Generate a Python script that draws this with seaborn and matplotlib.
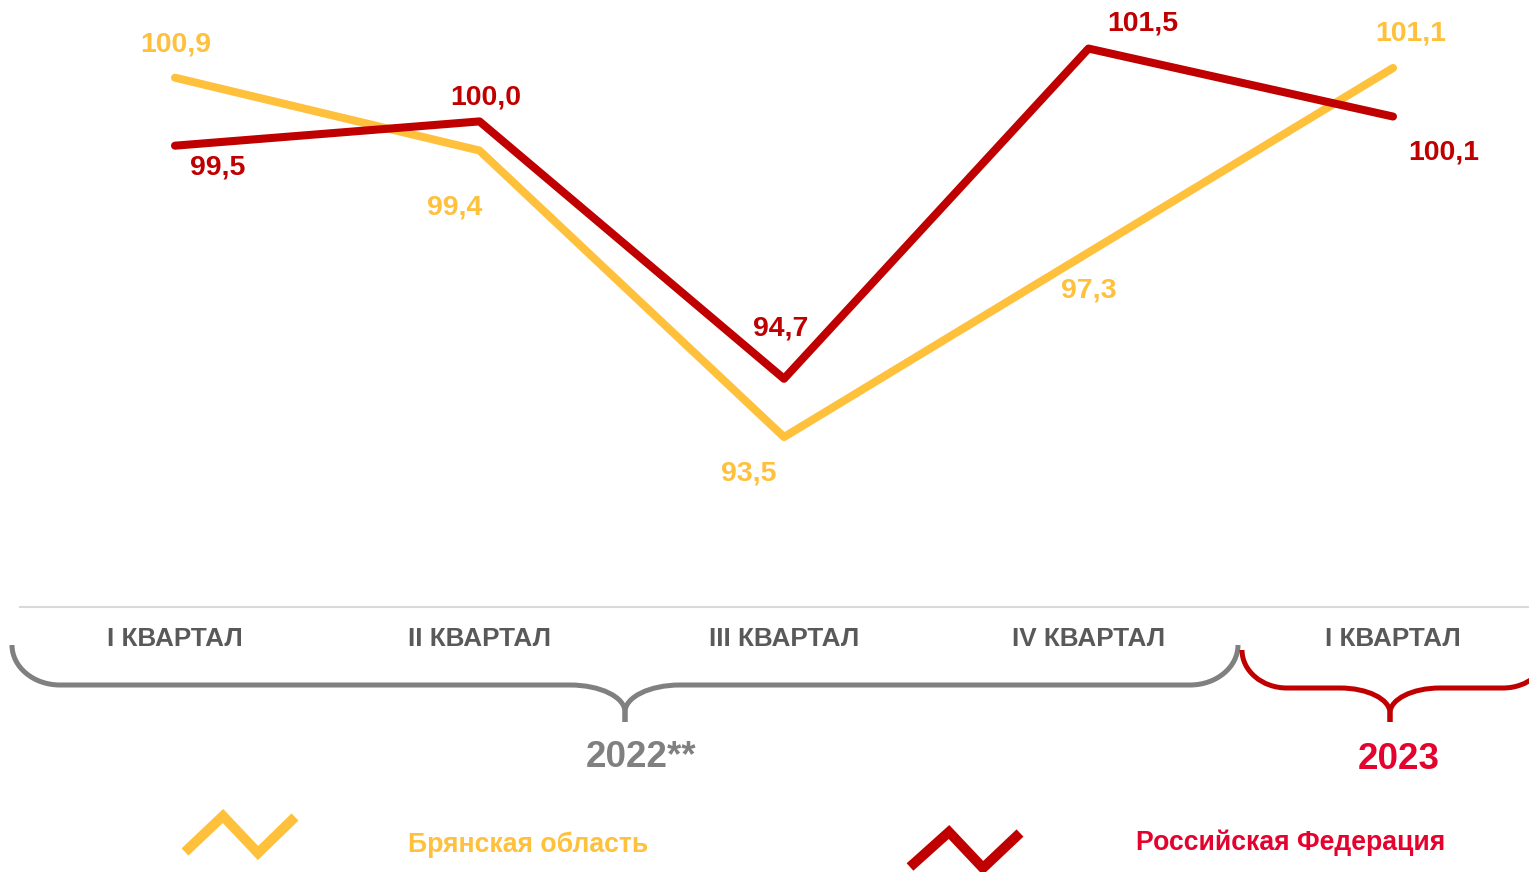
import seaborn as sns
sns.set_style('white')
import matplotlib.pyplot as plt
from matplotlib.path import Path
from matplotlib.patches import PathPatch
import numpy as np
import pandas as pd

plt.rcParams['font.family'] = ['Liberation Sans', 'DejaVu Sans']

# data
quarters = ['I КВАРТАЛ', 'II КВАРТАЛ', 'III КВАРТАЛ', 'IV КВАРТАЛ', 'I КВАРТАЛ']
bryansk = [100.9, 99.4, 93.5, 97.3, 101.1]
russia = [99.5, 100.0, 94.7, 101.5, 100.1]
series_names = ['Брянская область', 'Российская Федерация']
years = ['2022**', '2023']

# label offsets in pixels (dx, dy up)
off_bryansk = [(1, 33), (-25, -57), (-35, -36), (0, -38), (18, 34)]
off_russia = [(43, -22), (6, 24), (-3, 50), (54, 25), (51, -36)]

YEL = '#FFC03C'
RED = '#C00000'
CRIMSON = '#E4032E'
GRAY_TXT = '#595959'
GRAY_BR = '#808080'

W, H = 1529, 872
fig = plt.figure(figsize=(W / 100, H / 100), dpi=100)
ax = fig.add_axes([20 / W, (H - 607) / H, 1 - 20 / W, 607 / H])

df = pd.DataFrame({
    'x': list(range(5)) * 2,
    'value': bryansk + russia,
    'region': [series_names[0]] * 5 + [series_names[1]] * 5,
})
sns.lineplot(data=df, x='x', y='value', hue='region',
             palette={series_names[0]: YEL, series_names[1]: RED},
             linewidth=5.8, legend=False, ax=ax)
for ln in ax.lines:
    ln.set_solid_capstyle('round')
    ln.set_solid_joinstyle('round')

for vals, offs, col in [(bryansk, off_bryansk, YEL), (russia, off_russia, RED)]:
    for i, v in enumerate(vals):
        ax.annotate(f'{v:.1f}'.replace('.', ','), (i, v), xytext=offs[i],
                    textcoords='offset pixels', ha='center', va='center',
                    fontsize=20.5, fontweight='bold', color=col)

ax.set_xlim(-155 / 304.5, (W - 175) / 304.5)
ax.set_ylim(90, 102.5)
ax.set_yticks([])
ax.set_xticks(range(5))
ax.set_xticklabels(quarters, fontsize=18.8, fontweight='bold', color=GRAY_TXT)
ax.tick_params(axis='x', length=0, pad=14.5)
ax.set_xlabel('')
ax.set_ylabel('')
for s in ['top', 'right', 'left']:
    ax.spines[s].set_visible(False)
ax.spines['bottom'].set_color('#D9D9D9')
ax.spines['bottom'].set_linewidth(1.5)

# overlay in pixel coordinates for braces and legend
ov = fig.add_axes([0, 0, 1, 1])
ov.set_xlim(0, W)
ov.set_ylim(H, 0)
ov.axis('off')
ov.patch.set_alpha(0)


def brace(x0, x1, xm, ytop0, ytop1, ymid, ytip, r_end, r_mid, h, color):
    k = 0.552
    for xa, yt, sgn in [(x0, ytop0, 1), (x1, ytop1, -1)]:
        dy = ymid - yt
        verts = [(xa, yt),
                 (xa, yt + k * dy), (xa + sgn * r_end * (1 - k), ymid), (xa + sgn * r_end, ymid),
                 (xm - sgn * r_mid, ymid),
                 (xm - sgn * r_mid * (1 - k), ymid), (xm, ymid + (1 - k) * h), (xm, ymid + h),
                 (xm, ytip)]
        codes = [Path.MOVETO, Path.CURVE4, Path.CURVE4, Path.CURVE4, Path.LINETO,
                 Path.CURVE4, Path.CURVE4, Path.CURVE4, Path.LINETO]
        ov.add_patch(PathPatch(Path(verts, codes), fill=False, edgecolor=color,
                               lw=3.6, capstyle='butt'))


brace(12, 1238, 625, 645, 645, 685, 722, 48, 55, 27, GRAY_BR)
brace(1242, 1548, 1390, 650, 650, 688, 722, 45, 50, 25, RED)

ov.text(641, 757, years[0], ha='center', va='center', fontsize=26.5,
        fontweight='bold', color=GRAY_BR)
ov.text(1399, 759, years[1], ha='center', va='center', fontsize=26.5,
        fontweight='bold', color=CRIMSON)

# legend
ov.plot([185, 223, 258, 295], [852, 816, 853, 817], color=YEL, lw=7.2,
        solid_capstyle='butt', solid_joinstyle='miter')
ov.plot([910, 949, 983, 1020], [867, 832, 868, 833], color=RED, lw=7.2,
        solid_capstyle='butt', solid_joinstyle='miter')
ov.text(528, 845, series_names[0], ha='center', va='center', fontsize=19.2,
        fontweight='bold', color=YEL)
ov.text(1291, 843, series_names[1], ha='center', va='center', fontsize=19.2,
        fontweight='bold', color=CRIMSON)

plt.savefig('out.png', dpi=100)
